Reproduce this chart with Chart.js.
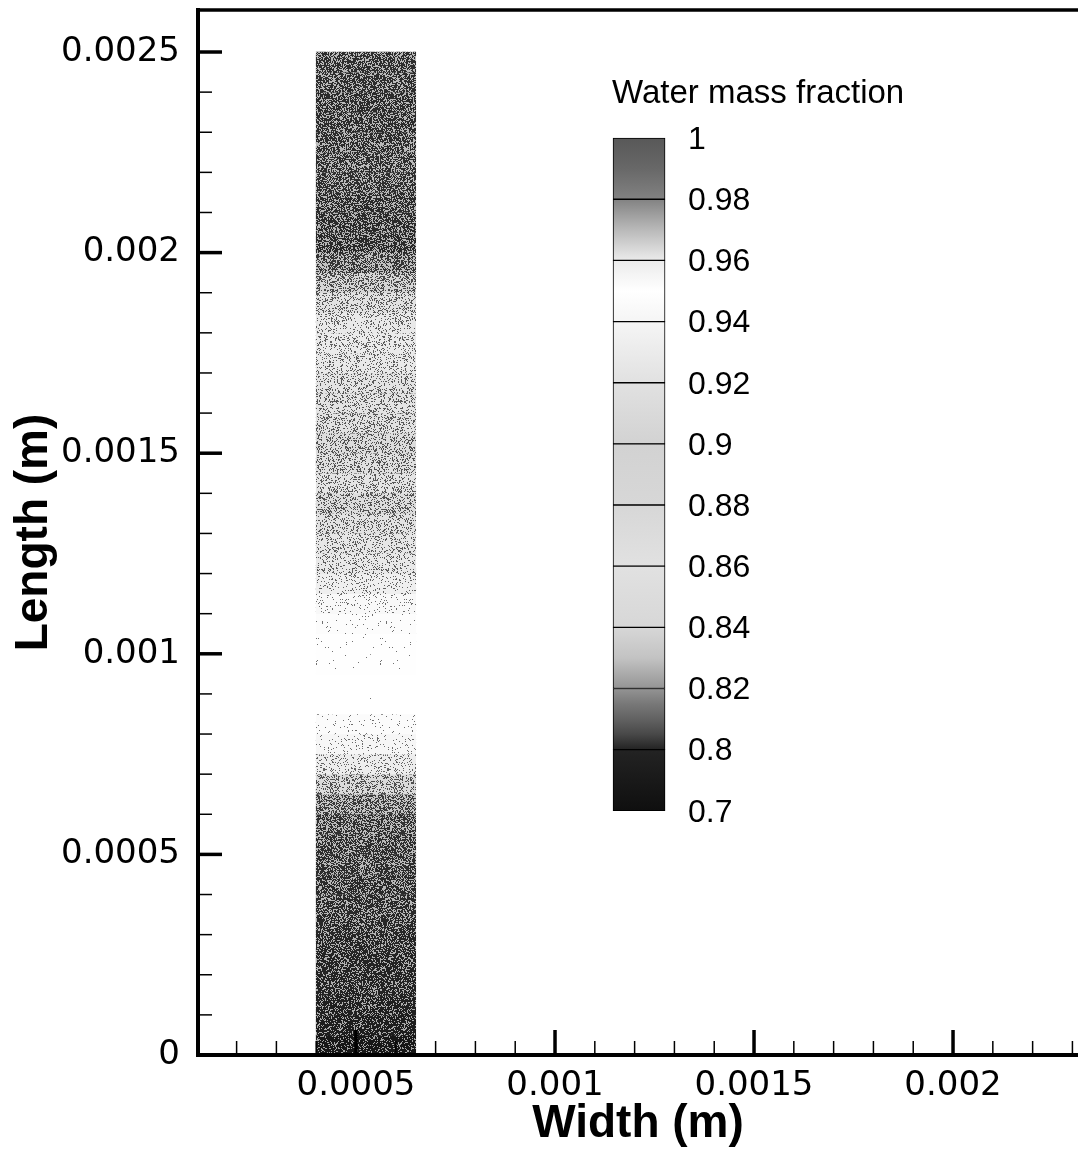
<!DOCTYPE html>
<html>
<head>
<meta charset="utf-8">
<title>Water mass fraction</title>
<script src="https://cdn.jsdelivr.net/npm/chart.js@4.4.1/dist/chart.umd.min.js"></script>
<style>
  html, body { margin: 0; padding: 0; background: #fff; }
  #wrap { position: relative; width: 1078px; height: 1152px; }
</style>
</head>
<body>
<div id="wrap"><canvas id="chart"></canvas></div>
<script>
// Rows of the water strip: centre of each row along the length (m), bottom to top
const rowLength = [
  0.000025, 0.000075, 0.000125, 0.000175, 0.000225, 0.000275, 0.000325, 0.000375, 0.000425, 0.000475,
  0.000525, 0.000575, 0.000625, 0.000675, 0.000725, 0.000775, 0.000825, 0.000875, 0.000925, 0.000975,
  0.001025, 0.001075, 0.001125, 0.001175, 0.001225, 0.001275, 0.001325, 0.001375, 0.001425, 0.001475,
  0.001525, 0.001575, 0.001625, 0.001675, 0.001725, 0.001775, 0.001825, 0.001875, 0.001925, 0.001975,
  0.002025, 0.002075, 0.002125, 0.002175, 0.002225, 0.002275, 0.002325, 0.002375, 0.002425, 0.002475
]
// Water mass fraction read for each row
const waterFraction = [
  0.802, 0.804, 0.805, 0.806, 0.806, 0.807, 0.808, 0.809, 0.809, 0.8105,
  0.811, 0.812, 0.817, 0.826, 0.880, 0.930, 0.940, 0.949, 0.950, 0.951,
  0.951, 0.953, 0.958, 0.963, 0.966, 0.967, 0.969, 0.971, 0.968, 0.970,
  0.971, 0.969, 0.968, 0.968, 0.966, 0.965, 0.966, 0.969, 0.974, 0.985,
  0.999, 0.997, 0.995, 0.990, 0.991, 0.992, 0.994, 0.995, 0.993, 0.993
]
// Strip extent across the width (m)
const stripWidth = [0.0004, 0.00065]

// Axis ticks
const xTickValues = [0.0005, 0.001, 0.0015, 0.002]
const xTickLabels = ["0.0005", "0.001", "0.0015", "0.002"]
const yTickValues = [0, 0.0005, 0.001, 0.0015, 0.002, 0.0025]
const yTickLabels = ["0", "0.0005", "0.001", "0.0015", "0.002", "0.0025"]

// Contour legend levels, top to bottom
const legendLevels = [1, 0.98, 0.96, 0.94, 0.92, 0.9, 0.88, 0.86, 0.84, 0.82, 0.8, 0.7]
const legendLabels = ["1", "0.98", "0.96", "0.94", "0.92", "0.9", "0.88", "0.86", "0.84", "0.82", "0.8", "0.7"]

// Grey colour map (value -> grey level)
const mapValues = [0.70, 0.80, 0.805, 0.81, 0.815, 0.82, 0.83, 0.84, 0.86, 0.88, 0.90, 0.92, 0.94, 0.95, 0.96, 0.965, 0.97, 0.975, 0.98, 0.99, 1.0]
const mapGrays = [15, 35, 72, 98, 120, 148, 195, 215, 225, 215, 210, 225, 245, 255, 235, 210, 185, 158, 130, 104, 88]

function greyLevel(v) {
  if (v <= mapValues[0]) return mapGrays[0]
  for (let i = 1; i < mapValues.length; i++) {
    if (v <= mapValues[i]) {
      const t = (v - mapValues[i - 1]) / (mapValues[i] - mapValues[i - 1])
      return Math.round(mapGrays[i - 1] + t * (mapGrays[i] - mapGrays[i - 1]))
    }
  }
  return mapGrays[mapGrays.length - 1]
}

function greyFor(v) {
  const g = greyLevel(v)
  return `rgb(${g},${g},${g})`
}

// Halftone-like speckle fill for a grey level (deterministic hash, texture only)
function hash(n) {
  const s = Math.sin(n * 12.9898 + 78.233) * 43758.5453
  return s - Math.floor(s)
}
function speckle(g, seed) {
  const size = 64
  const c = document.createElement("canvas")
  c.width = size
  c.height = size
  const cx = c.getContext("2d")
  const img = cx.createImageData(size, size)
  for (let p = 0; p < size * size; p++) {
    const h = hash(p * 1.37 + seed * 97.1)
    const dot = h < g / 255 ? 255 : 0
    const v = Math.round(0.45 * g + 0.55 * dot)
    img.data[p * 4] = v
    img.data[p * 4 + 1] = v
    img.data[p * 4 + 2] = v
    img.data[p * 4 + 3] = 255
  }
  cx.putImageData(img, 0, 0)
  return cx.createPattern(c, "repeat")
}

// Colour bar band fill: vertical gradient through the colour map
function bandFill(c) {
  const chart = c.chart
  const yc = chart.scales.yc
  const i = c.dataIndex
  if (!yc || i === undefined) return "#888"
  const hi = legendLevels[i]
  const lo = legendLevels[i + 1]
  const top = yc.getPixelForValue(i)
  const bot = yc.getPixelForValue(i + 1)
  if (!isFinite(top) || !isFinite(bot) || top === bot) return greyFor((hi + lo) / 2)
  const g = chart.ctx.createLinearGradient(0, top, 0, bot)
  g.addColorStop(0, greyFor(hi))
  mapValues.forEach((s) => {
    if (s < hi && s > lo) g.addColorStop((hi - s) / (hi - lo), greyFor(s))
  })
  g.addColorStop(1, greyFor(lo))
  return g
}

// Placement of the colour bar inside the plot (hidden helper scales)
const legendBox = { xMin: -7.98, xMax: 8.94, yMin: -2.095, yMax: 14.994 }

const tickFont = { family: "DejaVu Sans", size: 34 }
const titleFont = { family: "Liberation Sans", size: 46, weight: "bold" }

function noPadding(s) {
  s.paddingTop = 0
  s.paddingBottom = 0
  s.paddingLeft = 0
  s.paddingRight = 0
}

// Frame, inward ticks and colour bar text
const framePlugin = {
  id: "frame",
  afterDatasetsDraw(chart) {
    const { ctx, chartArea: a, scales } = chart
    const x = scales.x
    const y = scales.y
    ctx.save()
    ctx.strokeStyle = "#000"
    ctx.lineWidth = 3.5
    ctx.beginPath()
    ctx.moveTo(a.left - 2, a.top)
    ctx.lineTo(a.right, a.top)
    ctx.stroke()

    // minor ticks every 0.0001
    ctx.lineWidth = 1.5
    for (let i = 1; i <= 23; i++) {
      if (i % 5 === 0) continue
      const px = x.getPixelForValue(i / 10000)
      if (px < a.left + 2) continue
      ctx.beginPath()
      ctx.moveTo(px, a.bottom)
      ctx.lineTo(px, a.bottom - 14)
      ctx.stroke()
    }
    for (let i = 1; i <= 25; i++) {
      if (i % 5 === 0) continue
      const py = y.getPixelForValue(i / 10000)
      ctx.beginPath()
      ctx.moveTo(a.left, py)
      ctx.lineTo(a.left + 14, py)
      ctx.stroke()
    }
    // major ticks
    ctx.lineWidth = 3.5
    xTickValues.forEach((v) => {
      const px = x.getPixelForValue(v)
      ctx.beginPath()
      ctx.moveTo(px, a.bottom)
      ctx.lineTo(px, a.bottom - 25)
      ctx.stroke()
    })
    yTickValues.forEach((v) => {
      if (v === 0) return
      const py = y.getPixelForValue(v)
      ctx.beginPath()
      ctx.moveTo(a.left, py)
      ctx.lineTo(a.left + 24, py)
      ctx.stroke()
    })

    // colour bar title and labels
    const xc = scales.xc
    const yc = scales.yc
    ctx.fillStyle = "#000"
    ctx.font = "33px 'Liberation Sans'"
    ctx.textAlign = "left"
    ctx.textBaseline = "alphabetic"
    ctx.fillText("Water mass fraction", xc.getPixelForValue(0) - 1, yc.getPixelForValue(0) - 35)
    ctx.font = "32px 'Liberation Sans'"
    ctx.textBaseline = "middle"
    legendLabels.forEach((t, i) => {
      ctx.fillText(t, xc.getPixelForValue(1) + 23, yc.getPixelForValue(i) + 2)
    })
    ctx.restore()
  },
}

new Chart(document.getElementById("chart"), {
  type: "bar",
  data: {
    datasets: [
      {
        label: "Water mass fraction",
        data: rowLength.map((l, i) => ({ y: l, x: stripWidth })),
        backgroundColor: waterFraction.map((v, i) => speckle(greyLevel(v), i + 1)),
        borderWidth: 0,
        grouped: false,
        barPercentage: 1,
        categoryPercentage: 1,
        xAxisID: "x",
        yAxisID: "y",
      },
      {
        label: "legend",
        data: legendLevels.slice(0, -1).map((v, i) => ({ y: i + 0.5, x: [0, 1] })),
        backgroundColor: bandFill,
        borderColor: "#000",
        borderWidth: 1,
        borderSkipped: false,
        grouped: false,
        barPercentage: 1,
        categoryPercentage: 1,
        xAxisID: "xc",
        yAxisID: "yc",
      },
    ],
  },
  options: {
    indexAxis: "y",
    responsive: true,
    maintainAspectRatio: false,
    animation: false,
    layout: { padding: { top: 10, right: 0, bottom: 0, left: 0 } },
    plugins: { legend: { display: false }, tooltip: { enabled: false } },
    scales: {
      x: {
        type: "linear",
        position: "bottom",
        min: 0.000103,
        max: 0.002314,
        offset: false,
        afterFit: (s) => { s.height = 97; noPadding(s) },
        afterBuildTicks: (s) => { s.ticks = xTickValues.map((v) => ({ value: v })) },
        ticks: {
          callback: (v, i) => xTickLabels[i],
          font: tickFont,
          color: "#000",
          padding: 11,
          autoSkip: false,
          maxRotation: 0,
        },
        grid: { display: false, drawTicks: false, offset: false },
        border: { display: true, color: "#000", width: 4, z: 1 },
        title: { display: true, text: "Width (m)", font: titleFont, color: "#000", padding: { top: 0, bottom: 0 } },
      },
      y: {
        type: "linear",
        position: "left",
        min: 0,
        max: 0.0026047,
        offset: false,
        afterFit: (s) => { s.width = 198; noPadding(s) },
        afterBuildTicks: (s) => { s.ticks = yTickValues.map((v) => ({ value: v })) },
        ticks: {
          callback: (v, i) => yTickLabels[i],
          font: tickFont,
          color: "#000",
          padding: 18,
          autoSkip: false,
        },
        grid: { display: false, drawTicks: false, offset: false },
        border: { display: true, color: "#000", width: 4, z: 1 },
        title: { display: true, text: "Length (m)", font: titleFont, color: "#000", padding: { top: 7, bottom: 0 } },
      },
      xc: {
        type: "linear",
        display: false,
        offset: false,
        min: legendBox.xMin,
        max: legendBox.xMax,
      },
      yc: {
        type: "linear",
        display: false,
        offset: false,
        reverse: true,
        min: legendBox.yMin,
        max: legendBox.yMax,
        afterBuildTicks: (s) => { s.ticks = legendLevels.map((v, i) => ({ value: i })) },
      },
    },
  },
  plugins: [framePlugin],
})
</script>
</body>
</html>
